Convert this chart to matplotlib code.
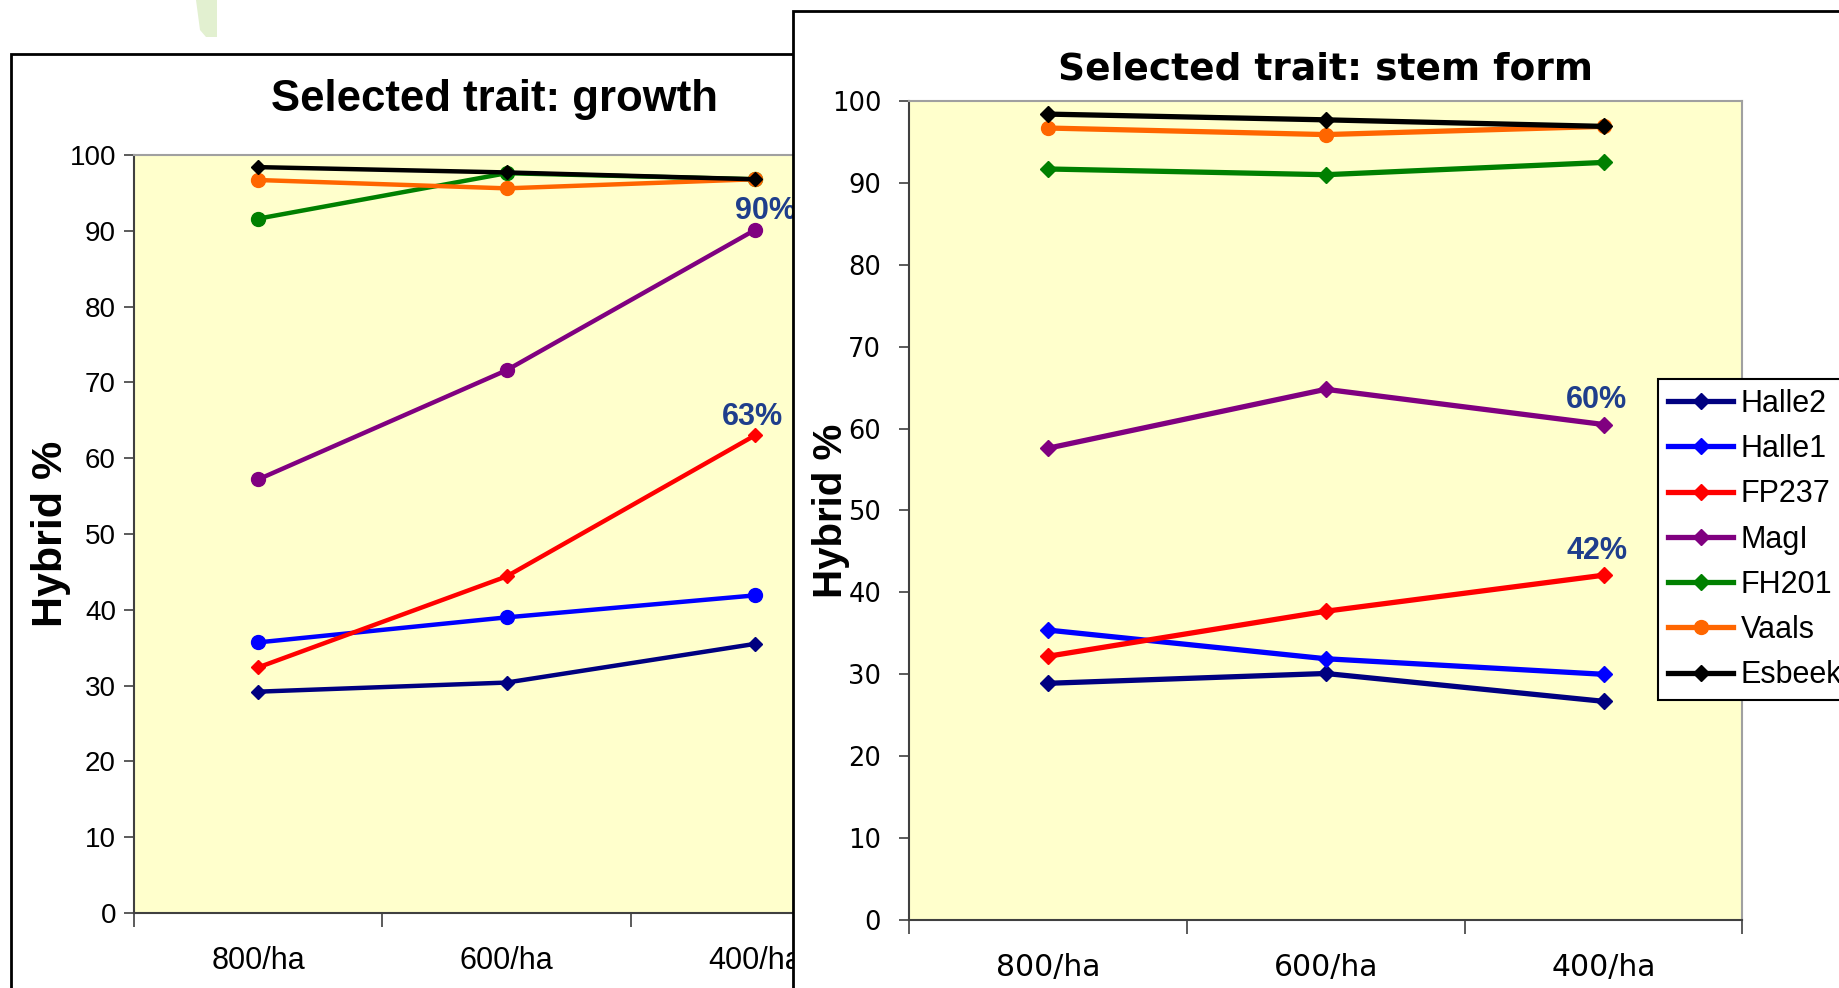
import matplotlib.pyplot as plt
from matplotlib.patches import Rectangle, Polygon

# categories and series
categories = ['800/ha', '600/ha', '400/ha']
series_names = ['Halle2', 'Halle1', 'FP237', 'MagI', 'FH201', 'Vaals', 'Esbeek']
series_colors = ['#000080', '#0000FF', '#FF0000', '#800080', '#008000', '#FF6600', '#000000']

# selected trait: growth
growth_halle2 = [29.2, 30.4, 35.5]
growth_halle1 = [35.7, 39.0, 41.9]
growth_fp237 = [32.4, 44.4, 63.0]
growth_magl = [57.2, 71.6, 90.1]
growth_fh201 = [91.6, 97.6, 96.8]
growth_vaals = [96.7, 95.6, 96.8]
growth_esbeek = [98.4, 97.7, 96.8]

# selected trait: stem form
stem_halle2 = [28.9, 30.1, 26.7]
stem_halle1 = [35.4, 31.9, 30.0]
stem_fp237 = [32.2, 37.7, 42.1]
stem_magl = [57.6, 64.8, 60.5]
stem_fh201 = [91.7, 91.0, 92.5]
stem_vaals = [96.7, 95.9, 96.9]
stem_esbeek = [98.4, 97.7, 96.9]

# labels put on the last point of two series
growth_labels = {'MagI': '90%', 'FP237': '63%'}
stem_labels = {'MagI': '60%', 'FP237': '42%'}

growth = [growth_halle2, growth_halle1, growth_fp237, growth_magl,
          growth_fh201, growth_vaals, growth_esbeek]
stem = [stem_halle2, stem_halle1, stem_fp237, stem_magl,
        stem_fh201, stem_vaals, stem_esbeek]

growth_markers = ['D', 'o', 'D', 'o', 'o', 'o', 'D']
stem_markers = ['D', 'D', 'D', 'D', 'D', 'o', 'D']

W, H = 1840, 988
fig = plt.figure(figsize=(W / 100, H / 100), dpi=100)
fig.patch.set_facecolor('white')

def fx(px):
    return px / W

def fy(py):
    return 1 - py / H

label_color = '#1F3E8C'
arial = ['Liberation Sans', 'DejaVu Sans']
arial_narrow = ['Liberation Sans Narrow', 'Liberation Sans', 'DejaVu Sans']
wide = ['DejaVu Sans']

# decoration at top left
fig.patches.append(Polygon([(fx(196), fy(0)), (fx(217), fy(0)), (fx(217), fy(37)),
                            (fx(206), fy(37)), (fx(200), fy(30))],
                           closed=True, facecolor='#E2F0D0', edgecolor='none',
                           transform=fig.transFigure, zorder=-2))

# panel frames
fig.patches.append(Rectangle((fx(11), fy(1000)), fx(900), fy(54) - fy(1000),
                             transform=fig.transFigure, facecolor='white',
                             edgecolor='black', linewidth=2, zorder=-1))
fig.patches.append(Rectangle((fx(793), fy(1000)), fx(1100), fy(11) - fy(1000),
                             transform=fig.transFigure, facecolor='white',
                             edgecolor='black', linewidth=2, zorder=1))

ax1 = fig.add_axes([fx(134), fy(913), fx(879 - 134), fy(155) - fy(913)], zorder=0)
ax2 = fig.add_axes([fx(909), fy(920), fx(1742.5 - 909), fy(101) - fy(920)], zorder=2)

xpos = [i + 0.5 for i in range(len(categories))]

def style_axes(ax, yfam, xfam, ytick_size, xtick_size, ypad, xpad):
    ax.set_facecolor('#FFFFCC')
    ax.set_xlim(0, len(categories))
    ax.set_ylim(0, 100)
    ax.set_yticks(range(0, 101, 10))
    ax.set_xticks(range(len(categories) + 1))
    ax.set_xticklabels([])
    ax.set_xticks(xpos, minor=True)
    ax.set_xticklabels(categories, minor=True)
    ax.tick_params(axis='x', which='major', length=10, width=1.2, color='#404040')
    ax.tick_params(axis='x', which='minor', length=0, pad=xpad, labelsize=xtick_size)
    ax.tick_params(axis='y', length=7, width=1.2, color='#404040', pad=ypad,
                   labelsize=ytick_size)
    for lab in ax.get_xticklabels(minor=True):
        lab.set_family(xfam)
    for lab in ax.get_yticklabels():
        lab.set_family(yfam)
    for side in ['left', 'bottom']:
        ax.spines[side].set_color('#404040')
        ax.spines[side].set_linewidth(1.5)
    for side in ['top', 'right']:
        ax.spines[side].set_color('#A0A0A0')
        ax.spines[side].set_linewidth(1.5)

# left chart: growth
for name, vals, col, mk in zip(series_names, growth, series_colors, growth_markers):
    ms = 10 if mk == 'o' else 7.5
    ax1.plot(xpos, vals, color=col, linewidth=3.2, marker=mk, markersize=ms,
             markeredgecolor=col, markerfacecolor=col, clip_on=False)
    if name in growth_labels:
        dx = 8 if name == 'MagI' else -1.5
        ax1.annotate(growth_labels[name], (xpos[-1], vals[-1]), xytext=(dx, 13.5),
                     textcoords='offset points', ha='center', va='center',
                     fontsize=22, fontweight='bold', color=label_color, family=arial)
style_axes(ax1, arial_narrow, arial, 20, 22, 6, 24)
ax1.set_ylabel('Hybrid %', fontsize=31, fontweight='bold', family=arial)
ax1.yaxis.label.set_va('center')
ax1.yaxis.set_label_coords(-0.111, 0.5)
fig.text(fx(495), fy(100), 'Selected trait: growth', ha='center', va='center',
         fontsize=31.5, fontweight='bold', family=arial)

# right chart: stem form
handles = []
for name, vals, col, mk in zip(series_names, stem, series_colors, stem_markers):
    ms = 10 if mk == 'o' else 8.5
    h, = ax2.plot(xpos, vals, color=col, linewidth=3.8, marker=mk, markersize=ms,
                  markeredgecolor=col, markerfacecolor=col, clip_on=False, label=name)
    handles.append(h)
    if name in stem_labels:
        ax2.annotate(stem_labels[name], (xpos[-1], vals[-1]), xytext=(-5, 17.5),
                     textcoords='offset points', ha='center', va='center',
                     fontsize=22, fontweight='bold', color=label_color, family=arial)
style_axes(ax2, wide, wide, 18.5, 21.5, 13, 24)
ax2.set_ylabel('Hybrid %', fontsize=29, fontweight='bold', family=arial)
ax2.yaxis.label.set_va('center')
ax2.yaxis.set_label_coords(-0.094, 0.5)
fig.text(fx(1325), fy(69), 'Selected trait: stem form', ha='center', va='center',
         fontsize=27, fontweight='bold', family=wide)

leg = ax2.legend(handles=handles, loc='upper left',
                 bbox_to_anchor=(fx(1658), fy(379)), bbox_transform=fig.transFigure,
                 borderaxespad=0, borderpad=0.32, labelspacing=0.5, handlelength=2.15,
                 handletextpad=0.23, fancybox=False, framealpha=1,
                 prop={'family': arial, 'size': 22})
leg.get_frame().set_edgecolor('black')
leg.get_frame().set_linewidth(1.5)
leg.set_zorder(5)

fig.savefig('out.png', dpi=100)
